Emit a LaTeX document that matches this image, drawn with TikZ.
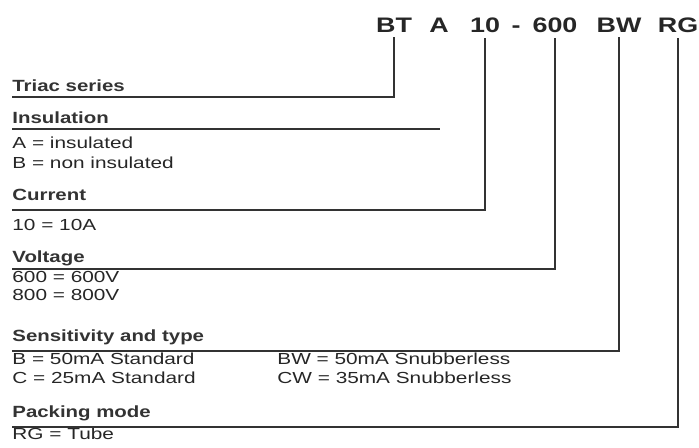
\documentclass[tikz,border=0pt]{standalone}
\usepackage{fontspec}
\setmainfont{Liberation Sans}
\newfontfamily\codefont[FakeStretch=1.28]{Liberation Sans}
\newfontfamily\headfont[FakeStretch=1.26]{Liberation Sans}
\newfontfamily\labelfont[FakeStretch=1.3]{Liberation Sans}
\usetikzlibrary{positioning}

\begin{document}
\begin{tikzpicture}[x=0.5pt, y=-0.5pt,
    code/.style={font=\codefont\fontsize{10.5}{12}\selectfont\bfseries, text=black!85,
                 anchor=base, inner sep=0pt},
    head/.style={font=\headfont\fontsize{8.1}{10}\selectfont\bfseries, text=black!80,
                 anchor=base west, inner sep=0pt},
    entry/.style={font=\labelfont\fontsize{8}{10}\selectfont, text=black!85,
                  anchor=base west, inner sep=0pt},
    lead/.style={line width=0.75pt, black!80},
  ]
  \useasboundingbox (0,0) rectangle (699,448);

  % Fields of the part number
  \foreach \name/\x/\txt in {bt/394/BT, a/439/A, cur/485/10, dash/516/-,
                              volt/555/600, sens/619/BW, pack/678/RG}
    \node[code] (\name) at (\x, 33) {\txt};

  % Headings
  \node[head] (hbt)   at (12, 92)  {Triac series};
  \node[head] (ha)    at (12, 124) {Insulation};
  \node[head] (hcur)  at (12, 201) {Current};
  \node[head] (hvolt) at (12, 262) {Voltage};
  \node[head] (hsens) at (12, 341) {Sensitivity and type};
  \node[head] (hpack) at (12, 417) {Packing mode};

  % Values
  \foreach \x/\y/\txt in {12/149/A = insulated, 12/169/B = non insulated,
                          12/231/10 = 10A, 12/282/600 = 600V, 12/300/800 = 800V,
                          12/364/B = 50mA Standard, 277/364/BW = 50mA Snubberless,
                          12/383/C = 25mA Standard, 277/383/CW = 35mA Snubberless,
                          12/439/RG = Tube}
    \node[entry] at (\x, \y) {\txt};

  % Leader lines from each heading up to its field
  \coordinate (la) at (12, 129);
  \coordinate (aend) at (440, 129);
  \draw[lead] (la) -- (aend);
  \foreach \name/\y in {bt/97, cur/210, volt/269, sens/351, pack/427}{
    \coordinate (l\name) at (12, \y);
    \draw[lead, shorten >=2pt] (l\name) -| (\name.south);
  }
\end{tikzpicture}
\end{document}
